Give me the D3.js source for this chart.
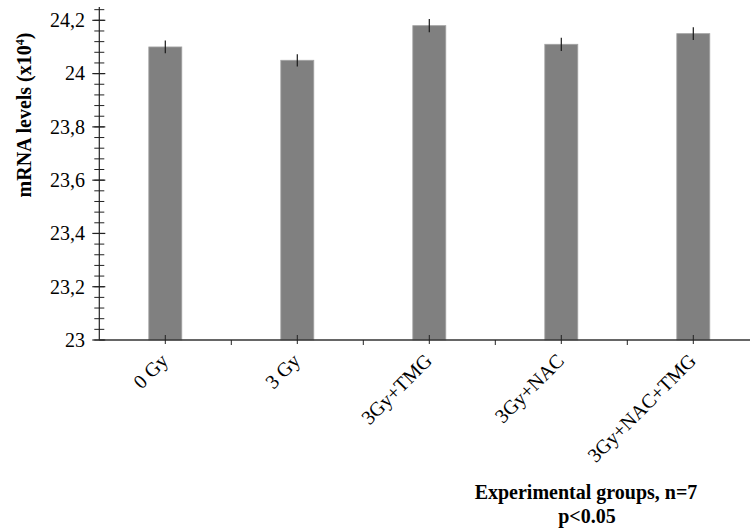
<!DOCTYPE html>
<html>
<head>
<meta charset="utf-8">
<style>
  body { margin: 0; background: #fff; }
</style>
</head>
<body>
<svg width="750" height="529" font-family="'Liberation Serif', 'Times New Roman', serif"></svg>
<script src="https://cdn.jsdelivr.net/npm/d3@7/dist/d3.min.js"></script>
<script>

var groups = ["0 Gy", "3 Gy", "3Gy+TMG", "3Gy+NAC", "3Gy+NAC+TMG"];
var values = [24.10, 24.05, 24.18, 24.11, 24.15];
var errors = [0.024, 0.023, 0.025, 0.025, 0.024];
var yTicks = [23, 23.2, 23.4, 23.6, 23.8, 24, 24.2];
var yTickLabels = ["23", "23,2", "23,4", "23,6", "23,8", "24", "24,2"];
var yMinor = d3.range(0, 32).map(function(i) { return +(23 + i * 0.04).toFixed(2); });

var data = groups.map(function(g, i) {
  return {group: g, value: values[i], err: errors[i]};
});

var svg = d3.select("svg"),
    x0 = 99.3, x1 = 759.3, yBottom = 340, yTop = 7,
    serif = "'Liberation Serif', 'Times New Roman', serif";

var x = d3.scaleBand()
    .domain(groups)
    .range([x0, x1])
    .paddingInner(0.75)
    .paddingOuter(0.375);

var y = d3.scaleLinear()
    .domain([23, 24.25])
    .range([yBottom, yTop]);

var step = x.step(), bw = x.bandwidth();

// bars
svg.append("g").selectAll("rect")
  .data(data)
  .enter().append("rect")
    .attr("x", function(d) { return x(d.group); })
    .attr("y", function(d) { return y(d.value); })
    .attr("width", bw)
    .attr("height", function(d) { return y(23) - y(d.value); })
    .attr("fill", "#808080")
    .attr("stroke", "#a3a3a3")
    .attr("stroke-width", 0.8);

// error bars
svg.append("g").selectAll("line")
  .data(data)
  .enter().append("line")
    .attr("x1", function(d) { return x(d.group) + bw / 2; })
    .attr("x2", function(d) { return x(d.group) + bw / 2; })
    .attr("y1", function(d) { return y(d.value + d.err); })
    .attr("y2", function(d) { return y(d.value - d.err); })
    .attr("stroke", "#1a1a1a")
    .attr("stroke-width", 1.2);

// y axis
var yAxis = svg.append("g");
yAxis.append("line")
    .attr("x1", x0).attr("x2", x0)
    .attr("y1", yTop).attr("y2", yBottom)
    .attr("stroke", "#222").attr("stroke-width", 1.2);

yAxis.selectAll(".minor")
  .data(yMinor)
  .enter().append("line")
    .attr("x1", x0 - 5).attr("x2", x0 + 5)
    .attr("y1", function(d) { return y(d); })
    .attr("y2", function(d) { return y(d); })
    .attr("stroke", "#222").attr("stroke-width", 1);

yAxis.selectAll(".major")
  .data(yTicks)
  .enter().append("line")
    .attr("x1", x0 - 7).attr("x2", x0 + 6)
    .attr("y1", function(d) { return y(d); })
    .attr("y2", function(d) { return y(d); })
    .attr("stroke", "#222").attr("stroke-width", 1.2);

yAxis.selectAll("text")
  .data(yTicks)
  .enter().append("text")
    .attr("x", 85)
    .attr("y", function(d) { return y(d); })
    .attr("dy", "0.34em")
    .attr("text-anchor", "end")
    .attr("font-family", serif)
    .attr("font-size", 20)
    .text(function(d, i) { return yTickLabels[i]; });

// x axis
var xAxis = svg.append("g");
xAxis.append("line")
    .attr("x1", x0).attr("x2", 750)
    .attr("y1", yBottom).attr("y2", yBottom)
    .attr("stroke", "#333").attr("stroke-width", 1.5);

xAxis.selectAll(".bound")
  .data(groups.slice(1))
  .enter().append("line")
    .attr("x1", function(d) { return x(d) - (step - bw) / 2; })
    .attr("x2", function(d) { return x(d) - (step - bw) / 2; })
    .attr("y1", yBottom).attr("y2", yBottom + 5)
    .attr("stroke", "#222").attr("stroke-width", 1);

xAxis.selectAll(".center")
  .data(groups)
  .enter().append("line")
    .attr("x1", function(d) { return x(d) + bw / 2; })
    .attr("x2", function(d) { return x(d) + bw / 2; })
    .attr("y1", yBottom - 5).attr("y2", yBottom + 4)
    .attr("stroke", "#222").attr("stroke-width", 1);

xAxis.selectAll("text")
  .data(groups)
  .enter().append("text")
    .attr("transform", function(d) {
      return "translate(" + (x(d) + bw / 2 + 4) + "," + (yBottom + 22) + ") rotate(-45)";
    })
    .attr("text-anchor", "end")
    .attr("font-family", serif)
    .attr("font-size", 20)
    .text(function(d) { return d; });

// axis titles
svg.append("text")
    .attr("transform", "translate(31,115) rotate(-90)")
    .attr("text-anchor", "middle")
    .attr("font-family", serif)
    .attr("font-size", 20)
    .attr("font-weight", "bold")
    .html("mRNA levels (x10<tspan dy='-7' font-size='12'>4</tspan><tspan dy='7'>)</tspan>");

svg.append("text")
    .attr("x", 586)
    .attr("y", 499)
    .attr("text-anchor", "middle")
    .attr("font-family", serif)
    .attr("font-size", 20)
    .attr("font-weight", "bold")
    .text("Experimental groups, n=7");

svg.append("text")
    .attr("x", 587)
    .attr("y", 523)
    .attr("text-anchor", "middle")
    .attr("font-family", serif)
    .attr("font-size", 20)
    .attr("font-weight", "bold")
    .text("p<0.05");

</script>
</body>
</html>
